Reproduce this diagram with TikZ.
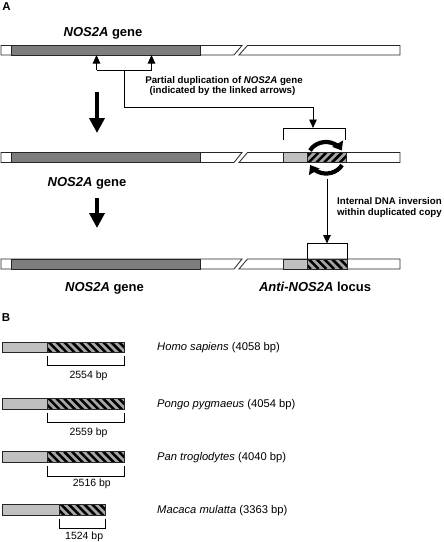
\documentclass[tikz,border=0pt]{standalone}
\usepackage{fontspec}
\setmainfont{Liberation Sans}
\usetikzlibrary{arrows.meta}
\definecolor{darkg}{RGB}{125,125,125}
\definecolor{lightg}{RGB}{192,192,192}
\definecolor{hatchg}{RGB}{165,165,165}
\newcommand\mygenebar[2]{%
  \draw[barline, fill=white] (1,#1) -- (242,#1) -- (234,#2) -- (1,#2) -- cycle;
  \draw[barline, fill=white] (247.5,#1) -- (400,#1) -- (400,#2) -- (239,#2) -- cycle;
  \draw[barline, fill=darkg] (11,#1) rectangle (200,#2);
}
% x1, ytop, x2, ybottom  ; backslash stripes
\newcommand\myhatchback[4]{%
  \begin{scope}
    \clip (#1,#2) rectangle (#3,#4);
    \fill[hatchg] (#1,#2) rectangle (#3,#4);
    \foreach \i in {0,...,13} \draw[stripe] ({#1-14+\i*7.8},#2) -- ++({#2-#4},{#4-#2});
  \end{scope}
  \draw[barline] (#1,#2) rectangle (#3,#4);
}
\newcommand\myhatchfwd[4]{%
  \begin{scope}
    \clip (#1,#2) rectangle (#3,#4);
    \fill[hatchg] (#1,#2) rectangle (#3,#4);
    \foreach \i in {0,...,13} \draw[stripe] ({#1-14+\i*7.8},#4) -- ++({#2-#4},{#2-#4});
  \end{scope}
  \draw[barline] (#1,#2) rectangle (#3,#4);
}
\begin{document}
\begin{tikzpicture}[x=1pt,y=1pt,
  barline/.style={draw=black!85, line width=0.8pt},
  thinline/.style={draw=black, line width=0.9pt},
  bigarrow/.style={line width=3.6pt, -{Triangle[length=15pt,width=15pt]}},
  smallarrow/.style={line width=0.9pt, -{Triangle[length=8.5pt,width=7.5pt]}},
  rotarrow/.style={line width=4.2pt, -{Triangle[length=8pt,width=12pt]}},
  stripe/.style={line width=2.5pt, black},
  biglab/.style={font=\fontsize{13}{15}\selectfont\bfseries, inner sep=0pt, anchor=base},
  midlab/.style={font=\fontsize{9.7}{12}\selectfont\bfseries, inner sep=0pt},
  panlab/.style={font=\fontsize{11.5}{13}\selectfont\bfseries, inner sep=0pt},
  specl/.style={font=\fontsize{11.2}{13}\selectfont, inner sep=0pt, anchor=base west},
  bplab/.style={font=\fontsize{10.5}{12}\selectfont, inner sep=0pt, anchor=base west},
]
\useasboundingbox (0,0) rectangle (444,-542);

% ---------- Panel A ----------
\node[panlab] (labA) at (6.5,-7) {A};
\node[biglab] (g1) at (103,-36.7) {\textit{NOS2A} gene};

% bar 1
\mygenebar{-45.5}{-55}

% bar 2
\mygenebar{-152.5}{-162.5}
\draw[barline, fill=lightg] (283,-152.5) rectangle (307,-162.5);
\myhatchfwd{307}{-152.5}{346}{-162.5}

% bar 3
\mygenebar{-259}{-269}
\draw[barline, fill=lightg] (283,-259) rectangle (307,-269);
\myhatchback{307}{-259}{347}{-269}

% partial duplication connector
\coordinate (u1) at (96.5,-70);
\coordinate (u2) at (151.5,-70);
\coordinate (t1) at (96.5,-55);
\coordinate (t2) at (151.5,-55);
\coordinate (um) at (124,-70);
\coordinate (dtip) at (313,-128);
\draw[smallarrow] (u1) -- (t1);
\draw[smallarrow] (u2) -- (t2);
\draw[thinline] (u1) -- (u2);
\draw[smallarrow] (um) |- (313,-107) -- (dtip);
\node[midlab] (pd1) at (224,-81.5) {Partial duplication of \textit{NOS2A} gene};
\node[midlab] (pd2) at (222.5,-91) {(indicated by the linked arrows)};

% bracket over duplicated copy
\coordinate (b1l) at (283,-140);
\coordinate (b1r) at (345,-140);
\draw[thinline] (b1l) -- (283,-128.5) -- (345,-128.5) -- (b1r);

% rotation arrows
\draw[rotarrow] (310,-150.5) arc[start angle=152, end angle=28, x radius=18, y radius=16];
\draw[rotarrow] (342,-165) arc[start angle=-28, end angle=-152, x radius=18, y radius=16];

% big down arrows
\coordinate (ba1) at (97,-92);
\coordinate (ba1e) at (97,-133);
\coordinate (ba2) at (97,-198);
\coordinate (ba2e) at (97,-228);
\draw[bigarrow] (ba1) -- (ba1e);
\draw[bigarrow] (ba2) -- (ba2e);

\node[biglab] (g2) at (87,-186) {\textit{NOS2A} gene};

% inversion connector
\coordinate (inv0) at (327,-179);
\coordinate (inv1) at (327,-243.5);
\draw[smallarrow] (inv0) -- (inv1);
\node[midlab, anchor=base west] (iv1) at (337,-204.5) {Internal DNA inversion};
\node[midlab, anchor=base west] (iv2) at (337,-215) {within duplicated copy};

\coordinate (b2l) at (307,-259);
\coordinate (b2r) at (347,-259);
\draw[thinline] (b2l) -- (307,-243.8) -- (347,-243.8) -- (b2r);

\node[biglab] (g3) at (104.5,-291.7) {\textit{NOS2A} gene};
\node[biglab] (anti) at (315,-291.7) {\textit{Anti-NOS2A} locus};

% ---------- Panel B ----------
\node[panlab] (labB) at (6,-317.5) {B};

% Homo sapiens
\draw[barline, fill=lightg] (2,-342) rectangle (47,-352.5);
\myhatchback{47}{-342}{124}{-352.5}
\draw[thinline] (47,-355.5) -- (47,-365) -- (124,-365) -- (124,-355.5);
\node[bplab] (bp1) at (69.3,-378) {2554 bp};
\node[specl] (s1) at (157,-350.5) {\textit{Homo sapiens} (4058 bp)};

% Pongo pygmaeus
\draw[barline, fill=lightg] (2,-398.5) rectangle (47,-409.5);
\myhatchback{47}{-398.5}{124}{-409.5}
\draw[thinline] (47,-412.5) -- (47,-422.7) -- (124,-422.7) -- (124,-412.5);
\node[bplab] (bp2) at (69.3,-435) {2559 bp};
\node[specl] (s2) at (157,-407) {\textit{Pongo pygmaeus} (4054 bp)};

% Pan troglodytes
\draw[barline, fill=lightg] (2,-451.7) rectangle (47,-462.7);
\myhatchback{47}{-451.7}{124}{-462.7}
\draw[thinline] (47,-465.7) -- (47,-476) -- (124,-476) -- (124,-465.7);
\node[bplab] (bp3) at (72.7,-486.5) {2516 bp};
\node[specl] (s3) at (157,-460.5) {\textit{Pan troglodytes} (4040 bp)};

% Macaca mulatta
\draw[barline, fill=lightg] (2,-504.3) rectangle (59.3,-515.5);
\myhatchback{59.3}{-504.3}{105}{-515.5}
\draw[thinline] (59.3,-518.5) -- (59.3,-528.3) -- (105,-528.3) -- (105,-518.5);
\node[bplab] (bp4) at (65,-539) {1524 bp};
\node[specl] (s4) at (157,-513) {\textit{Macaca mulatta} (3363 bp)};
\end{tikzpicture}
\end{document}
